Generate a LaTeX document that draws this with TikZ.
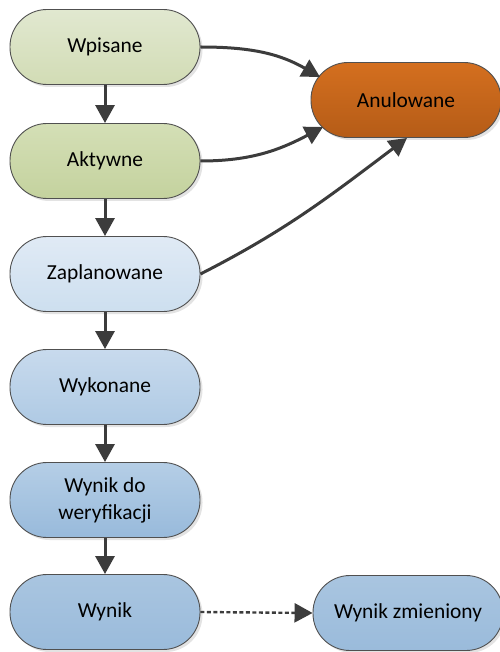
\documentclass[tikz,border=0pt]{standalone}
\usepackage{fontspec}
\setmainfont{Carlito}
\usetikzlibrary{arrows.meta,shadows}

\definecolor{edgegray}{HTML}{3C3C3C}
\definecolor{rimgray}{HTML}{505050}

% colour ramps of the states
\definecolor{c1t}{HTML}{E1E8D0}\definecolor{c1b}{HTML}{D2DCB5}
\definecolor{c2t}{HTML}{D4DFB6}\definecolor{c2b}{HTML}{C4D29E}
\definecolor{c3t}{HTML}{E0EAF5}\definecolor{c3b}{HTML}{CDDFEF}
\definecolor{c4t}{HTML}{C8DAED}\definecolor{c4b}{HTML}{AFCAE4}
\definecolor{c5t}{HTML}{B5CEE6}\definecolor{c5b}{HTML}{98BADB}
\definecolor{c6t}{HTML}{A9C5E0}\definecolor{c6b}{HTML}{9ABBDB}
\definecolor{c7t}{HTML}{D46F1F}\definecolor{c7b}{HTML}{B55C17}

\begin{document}
\begin{tikzpicture}[x=1pt,y=-1pt,
  state/.style={draw=rimgray, line width=0.9pt, rectangle, rounded corners=37pt,
    minimum width=190pt, minimum height=75pt, align=center, inner sep=2pt,
    font=\fontsize{21.4}{27}\selectfont, text=black,
    drop shadow={shadow xshift=2.5pt, shadow yshift=-2.5pt, fill=black!22, opacity=0.5}},
  flow/.style={draw=edgegray, line width=3pt,
    -{Triangle[length=18pt,width=19pt]}},
]
\useasboundingbox (0,0) rectangle (499,652);

\node[state, top color=c1t, bottom color=c1b] (wpisane) at (105,47) {Wpisane};
\node[state, top color=c2t, bottom color=c2b] (aktywne) at (105,161) {Aktywne};
\node[state, top color=c3t, bottom color=c3b] (zaplan) at (105,274) {Zaplanowane};
\node[state, top color=c4t, bottom color=c4b] (wykonane) at (105,387) {Wykonane};
\node[state, top color=c5t, bottom color=c5b] (weryf) at (105,500) {Wynik do\\weryfikacji};
\node[state, top color=c6t, bottom color=c6b] (wynik) at (105,612) {Wynik};
\node[state, top color=c6t, bottom color=c6b] (zmien) at (408,613) {Wynik zmieniony};
\node[state, top color=c7t, bottom color=c7b] (anul) at (406,100) {Anulowane};

% main sequence
\draw[flow] (wpisane) -- (aktywne);
\draw[flow] (aktywne) -- (zaplan);
\draw[flow] (zaplan) -- (wykonane);
\draw[flow] (wykonane) -- (weryf);
\draw[flow] (weryf) -- (wynik);

% cancellations
\draw[flow] (wpisane.east) to[out=0, in=150] ([xshift=-86pt,yshift=23pt]anul.center);
\draw[flow] (aktywne.east) to[out=0, in=-152] ([xshift=-83pt,yshift=-27pt]anul.center);
\draw[flow] (zaplan.east) to[out=27, in=-143] ([xshift=1pt]anul.south);

% correction of a result
\draw[flow, dash pattern=on 4pt off 2.5pt, line width=2.4pt] (wynik.east) -- (zmien.west);
\end{tikzpicture}
\end{document}
